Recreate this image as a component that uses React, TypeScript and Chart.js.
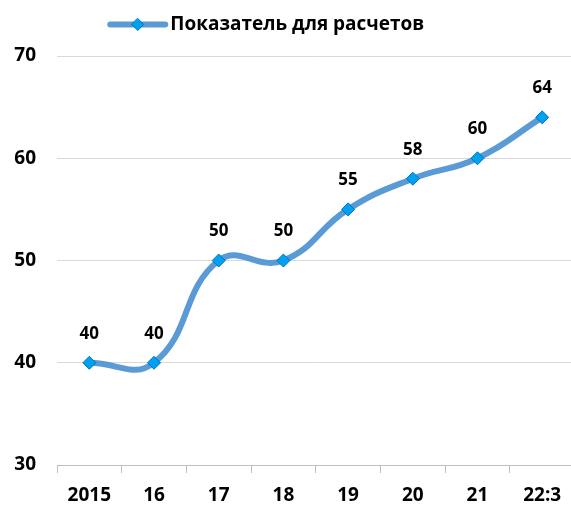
import React, { useEffect, useRef } from "react";
import { Chart, registerables } from "chart.js";

Chart.register(...registerables);

const categories = ["2015", "16", "17", "18", "19", "20", "21", "22:3"];
const values = [40, 40, 50, 50, 55, 58, 60, 64];
const seriesName = "Показатель для расчетов";
const yTicks = [30, 40, 50, 60, 70];

const LINE_COLOR = "#5B9BD5";
const POINT_FILL = "#00A2F0";
const POINT_BORDER = "#0070C0";
const FONT = "'Open Sans', 'Noto Sans', sans-serif";
const LEGEND_FONT_SIZE = 19;
const LEGEND_BOX = 46;
const CANVAS_W = 582;
const VIEW_W = 571;
const VIEW_H = 506;

const dataLabelPlugin = {
  id: "dataLabels",
  afterDatasetsDraw(chart: any) {
    const ctx = chart.ctx;
    const meta = chart.getDatasetMeta(0);
    ctx.save();
    ctx.font = `bold 17px ${FONT}`;
    ctx.fillStyle = "#000";
    ctx.textAlign = "center";
    ctx.textBaseline = "middle";
    meta.data.forEach((pt: any, i: number) => {
      ctx.fillText(String(values[i]), pt.x, pt.y - 29);
    });
    ctx.restore();
  },
};

const legendTweakPlugin = {
  id: "legendTweak",
  beforeInit(chart: any) {
    const lg = chart.legend;
    if (!lg) return;
    const origFit = lg.fit;
    lg.fit = function () {
      origFit.call(this);
      this.height += 12;
    };
  },
  afterLayout(chart: any) {
    const lg = chart.legend;
    if (!lg) return;
    const shift = -21.5;
    lg.left += shift;
    lg.right += shift;
    (lg.legendHitBoxes || []).forEach((b: any) => {
      b.left += shift;
    });
  },
  afterDraw(chart: any) {
    const lg = chart.legend;
    if (!lg || !lg.legendHitBoxes || !lg.legendHitBoxes.length) return;
    const box = lg.legendHitBoxes[0];
    const ctx = chart.ctx;
    const textX = box.left + LEGEND_BOX + LEGEND_FONT_SIZE / 2;
    const cy = box.top + box.height / 2;
    const x0 = textX - 60;
    const x1 = textX - 5;
    ctx.save();
    ctx.strokeStyle = LINE_COLOR;
    ctx.lineWidth = 6;
    ctx.lineCap = "round";
    ctx.beginPath();
    ctx.moveTo(x0, cy);
    ctx.lineTo(x1, cy);
    ctx.stroke();
    const cx = (x0 + x1) / 2;
    const r = 6;
    ctx.beginPath();
    ctx.moveTo(cx, cy - r);
    ctx.lineTo(cx + r, cy);
    ctx.lineTo(cx, cy + r);
    ctx.lineTo(cx - r, cy);
    ctx.closePath();
    ctx.fillStyle = POINT_FILL;
    ctx.fill();
    ctx.lineWidth = 1;
    ctx.strokeStyle = POINT_BORDER;
    ctx.stroke();
    ctx.restore();
  },
};

export default function App() {
  const canvasRef = useRef<HTMLCanvasElement | null>(null);

  useEffect(() => {
    document.body.style.margin = "0";
    const canvas = canvasRef.current;
    if (!canvas) return;
    const chart = new Chart(canvas, {
      type: "line",
      data: {
        labels: categories,
        datasets: [
          {
            label: seriesName,
            data: values,
            borderColor: LINE_COLOR,
            backgroundColor: LINE_COLOR,
            borderWidth: 6,
            tension: 0.45,
            pointStyle: "rectRot",
            pointRadius: 6.5,
            pointBackgroundColor: POINT_FILL,
            pointBorderColor: POINT_BORDER,
            pointBorderWidth: 1,
          },
        ],
      },
      options: {
        animation: false,
        responsive: false,
        layout: { padding: { top: 5, right: 0, left: 0, bottom: 0 } },
        plugins: {
          tooltip: { enabled: false },
          legend: {
            display: true,
            position: "top",
            labels: {
              boxWidth: LEGEND_BOX,
              boxHeight: 5,
              color: "#000",
              font: { family: FONT, size: LEGEND_FONT_SIZE, weight: "bold" },
              padding: 10,
              generateLabels: () => [
                {
                  text: seriesName,
                  fillStyle: "rgba(0,0,0,0)",
                  strokeStyle: "rgba(0,0,0,0)",
                  lineWidth: 0,
                  hidden: false,
                  datasetIndex: 0,
                } as any,
              ],
            },
          },
        },
        scales: {
          x: {
            offset: true,
            grid: {
              offset: true,
              drawOnChartArea: false,
              drawTicks: true,
              tickLength: 8,
              color: "#BFBFBF",
            },
            border: { display: true, color: "#BFBFBF", width: 1 },
            ticks: {
              color: "#000",
              font: { family: FONT, size: 19, weight: "bold" },
              padding: 11,
              maxRotation: 0,
            },
            afterFit(scale: any) {
              scale.height = 41;
              scale.paddingLeft = 0;
              scale.paddingRight = 0;
            },
          },
          y: {
            min: yTicks[0],
            max: yTicks[yTicks.length - 1],
            afterBuildTicks(scale: any) {
              scale.ticks = yTicks.map((v) => ({ value: v }));
            },
            grid: {
              color: (c: any) => (c.tick && c.tick.value === yTicks[0] ? "rgba(0,0,0,0)" : "#D9D9D9"),
              drawTicks: false,
              lineWidth: 1,
            },
            border: { display: false },
            ticks: {
              color: "#000",
              font: { family: FONT, size: 19, weight: "bold" },
              padding: 21,
            },
            afterFit(scale: any) {
              scale.width = 57;
            },
          },
        },
      },
      plugins: [dataLabelPlugin, legendTweakPlugin],
    });
    return () => chart.destroy();
  }, []);

  return (
    <div style={{ width: VIEW_W, height: VIEW_H, overflow: "hidden" }}>
      <canvas ref={canvasRef} width={CANVAS_W} height={VIEW_H} style={{ display: "block" }} />
    </div>
  );
}
